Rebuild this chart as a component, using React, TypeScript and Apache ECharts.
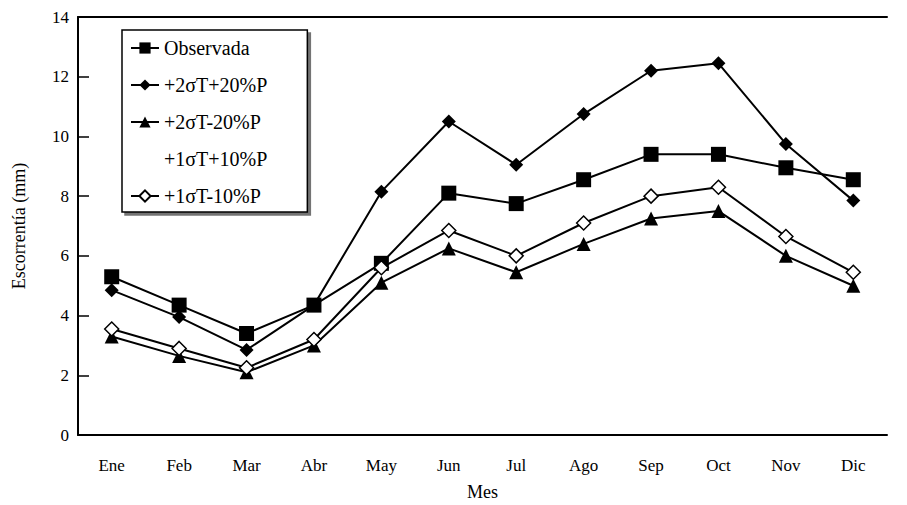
import React, { useEffect, useRef } from "react";
import * as echarts from "echarts";

const months = ["Ene", "Feb", "Mar", "Abr", "May", "Jun", "Jul", "Ago", "Sep", "Oct", "Nov", "Dic"];
const observada = [5.3, 4.35, 3.4, 4.35, 5.75, 8.1, 7.75, 8.55, 9.4, 9.4, 8.95, 8.55];
const t2p20 = [4.85, 3.95, 2.85, 4.35, 8.15, 10.5, 9.05, 10.75, 12.2, 12.45, 9.75, 7.85];
const t2m20 = [3.3, 2.65, 2.1, 3.0, 5.1, 6.25, 5.45, 6.4, 7.25, 7.5, 6.0, 5.0];
const t1p10: (number | null)[] = [];
const t1m10 = [3.55, 2.9, 2.25, 3.2, 5.6, 6.85, 6.0, 7.1, 8.0, 8.3, 6.65, 5.45];
const yTicks = [0, 2, 4, 6, 8, 10, 12, 14];

const FONT = "Liberation Serif";

export default function App() {
  const ref = useRef<HTMLDivElement>(null);
  useEffect(() => {
    if (!ref.current) return;
    const chart = echarts.init(ref.current, undefined, { renderer: "svg" });
    const lineS = (name: string, data: any[], symbol: string, size: number, fill: string) => ({
      name,
      type: "line",
      data,
      symbol,
      symbolSize: size,
      showAllSymbol: true,
      itemStyle: { color: fill, borderColor: "#000", borderWidth: fill === "#fff" ? 1.5 : 0 },
      lineStyle: { color: "#000", width: 2 },
      z: 3,
    });
    chart.setOption({
      animation: false,
      backgroundColor: "#fff",
      textStyle: { fontFamily: FONT, color: "#000" },
      grid: { left: 78, right: 20, top: 17, bottom: 70, containLabel: false, outerBoundsMode: "none" },
      legend: {
        orient: "vertical",
        left: 122,
        top: 30,
        padding: [8, 40, 6, 8],
        itemGap: 17,
        itemWidth: 28,
        itemHeight: 14,
        backgroundColor: "#fff",
        borderColor: "#000",
        borderWidth: 1.5,
        borderRadius: 0,
        shadowColor: "rgba(0,0,0,0.55)",
        shadowOffsetX: 3,
        shadowOffsetY: 3,
        shadowBlur: 0,
        textStyle: { fontFamily: FONT, fontSize: 20, color: "#000" },
        data: ["Observada", "+2σT+20%P", "+2σT-20%P", "+1σT+10%P", "+1σT-10%P"],
      },
      xAxis: [
        {
          type: "category",
          data: months,
          position: "bottom",
          name: "Mes",
          nameLocation: "middle",
          nameGap: 48,
          nameTextStyle: { fontFamily: FONT, fontSize: 18, color: "#000" },
          axisLine: { lineStyle: { color: "#000", width: 2 } },
          axisTick: { inside: true, length: 6, alignWithLabel: true, lineStyle: { color: "#000", width: 1.5 } },
          axisLabel: { margin: 22, fontFamily: FONT, fontSize: 17, color: "#000" },
          splitLine: { show: false },
        },
        {
          type: "category",
          data: months,
          position: "top",
          axisLine: { lineStyle: { color: "#000", width: 2 } },
          axisTick: { show: false },
          axisLabel: { show: false },
          splitLine: { show: false },
        },
      ],
      yAxis: {
        type: "value",
        min: yTicks[0],
        max: yTicks[yTicks.length - 1],
        interval: 2,
        name: "Escorrentía (mm)",
        nameLocation: "middle",
        nameGap: 50,
        nameTextStyle: { fontFamily: FONT, fontSize: 18, color: "#000" },
        axisLine: { show: true, lineStyle: { color: "#000", width: 2 } },
        axisTick: { show: true, inside: true, length: 11, lineStyle: { color: "#000", width: 1.5 } },
        axisLabel: { margin: 9, fontFamily: FONT, fontSize: 17, color: "#000" },
        splitLine: { show: false },
      },
      series: [
        lineS("Observada", observada, "rect", 15, "#000"),
        lineS("+2σT+20%P", t2p20, "diamond", 14, "#000"),
        lineS("+2σT-20%P", t2m20, "triangle", 14, "#000"),
        {
          name: "+1σT+10%P",
          type: "line",
          data: t1p10,
          symbol: "none",
          lineStyle: { width: 0, opacity: 0 },
          itemStyle: { opacity: 0 },
        },
        lineS("+1σT-10%P", t1m10, "diamond", 14, "#fff"),
      ],
    });
    return () => chart.dispose();
  }, []);
  return <div ref={ref} style={{ width: 907, height: 505, position: "absolute", left: 0, top: 0 }} />;
}
